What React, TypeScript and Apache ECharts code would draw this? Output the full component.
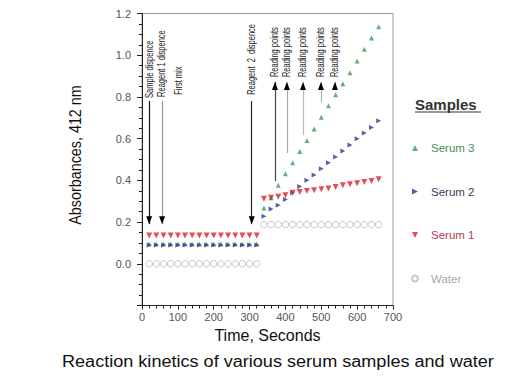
import { useEffect, useRef } from "react";
import * as echarts from "echarts";

// ---- data ----
const timesPhase1 = [20, 40, 60, 80, 100, 120, 140, 160, 180, 200, 220, 240, 260, 280, 300, 320];
const timesPhase2 = [340, 360, 380, 400, 420, 440, 460, 480, 500, 520, 540, 560, 580, 600, 620, 640, 660];

const serum3Phase1 = [0.095, 0.095, 0.095, 0.095, 0.095, 0.095, 0.095, 0.095, 0.095, 0.095, 0.095, 0.095, 0.095, 0.095, 0.095, 0.095];
const serum2Phase1 = [0.09, 0.09, 0.09, 0.09, 0.09, 0.09, 0.09, 0.09, 0.09, 0.09, 0.09, 0.09, 0.09, 0.09, 0.09, 0.09];
const serum1Phase1 = [0.136, 0.136, 0.136, 0.136, 0.136, 0.136, 0.136, 0.136, 0.136, 0.136, 0.136, 0.136, 0.136, 0.136, 0.136, 0.136];
const waterPhase1 = [0, 0, 0, 0, 0, 0, 0, 0, 0, 0, 0, 0, 0, 0, 0, 0];

const serum3Phase2 = [0.268, 0.317, 0.376, 0.432, 0.485, 0.538, 0.591, 0.646, 0.702, 0.758, 0.81, 0.863, 0.916, 0.972, 1.028, 1.083, 1.136];
const serum2Phase2 = [0.228, 0.263, 0.281, 0.308, 0.34, 0.37, 0.4, 0.426, 0.456, 0.485, 0.512, 0.541, 0.57, 0.599, 0.627, 0.654, 0.686];
const serum1Phase2 = [0.312, 0.317, 0.321, 0.328, 0.341, 0.344, 0.349, 0.352, 0.357, 0.361, 0.368, 0.376, 0.381, 0.386, 0.392, 0.397, 0.405];
const waterPhase2 = [0.188, 0.188, 0.188, 0.188, 0.188, 0.188, 0.188, 0.188, 0.188, 0.188, 0.188, 0.188, 0.188, 0.188, 0.188, 0.188, 0.188];

const seriesNames = ["Serum 3", "Serum 2", "Serum 1", "Water"];
const legendTitle = "Samples";
const chartTitle = "Reaction kinetics of various serum samples and water";
const yAxisName = "Absorbances, 412 nm";
const xAxisName = "Time, Seconds";

// annotation texts (time, bottom value of text)
const annotationLabels = ["Sample dispence", "Reagent 1 dispence", "First mix", "Reagent  2  dispence", "Reading points", "Reading points", "Reading points", "Reading points", "Reading points"];
const annotationTimes = [20, 56, 103, 306, 371, 404, 449, 499, 538];
const annotationBottoms = [0.795, 0.8, 0.81, 0.81, 0.895, 0.895, 0.895, 0.895, 0.895];

// arrows: time, from value, to value (arrowhead at "to")
const arrowTimes = [20, 56, 306, 371, 404, 449, 499, 538];
const arrowFrom = [0.78, 0.78, 0.78, 0.397, 0.531, 0.617, 0.775, 0.848];
const arrowTo = [0.19, 0.19, 0.19, 0.872, 0.872, 0.872, 0.872, 0.872];
const arrowColors = ["#111", "#999", "#222", "#444", "#aaa", "#bbb", "#aaa", "#888"];

const xTicks = { min: 0, max: 700, interval: 100 };
const yTicks = { min: -0.2, max: 1.2, interval: 0.2 };

const zip = (ts: number[], vs: number[]) => ts.map((t, i) => [t, vs[i]]);

export default function App() {
  const ref = useRef<HTMLDivElement>(null);
  useEffect(() => {
    if (!ref.current) return;
    const chart = echarts.init(ref.current, undefined, { renderer: "svg" });
    const all = [...timesPhase1, ...timesPhase2];
    const s3 = zip(all, [...serum3Phase1, ...serum3Phase2]);
    const s2 = zip(all, [...serum2Phase1, ...serum2Phase2]);
    const s1 = zip(all, [...serum1Phase1, ...serum1Phase2]);
    const w = zip(all, [...waterPhase1, ...waterPhase2]);

    const markLines = arrowTimes.map((t, i) => [
      { coord: [t, arrowFrom[i]], symbol: "none", lineStyle: { color: arrowColors[i], width: 1.2, type: "solid" } },
      { coord: [t, arrowTo[i]], symbol: "none" },
    ]);
    const markPoints = arrowTimes.map((t, i) => {
      const down = arrowTo[i] < arrowFrom[i];
      return {
        coord: [t, arrowTo[i]],
        symbol: "triangle",
        symbolSize: [6, 8],
        symbolRotate: down ? 180 : 0,
        symbolOffset: [0, down ? -4 : 4],
        itemStyle: { color: "#000" },
        label: { show: false },
      };
    });

    const textStyleBase = { fontFamily: "Liberation Sans", color: "#555" };

    chart.setOption({
      animation: false,
      backgroundColor: "#fff",
      legend: {
        orient: "vertical",
        left: 406,
        top: 137,
        itemWidth: 6,
        itemHeight: 6,
        itemGap: 31.5,
        data: [
          { name: seriesNames[0], icon: "path://M5,0L10,10L0,10Z", textStyle: { color: "#3f8f55" } },
          { name: seriesNames[1], icon: "path://M0,0L10,5L0,10Z", textStyle: { color: "#3a3a5c" } },
          { name: seriesNames[2], icon: "path://M0,0L10,0L5,10Z", textStyle: { color: "#b83a55" } },
          { name: seriesNames[3], textStyle: { color: "#aaa" } },
        ],
        textStyle: { fontFamily: "Liberation Sans", fontSize: 11.5, padding: [0, 0, 0, 8] },
      },
      grid: { left: 142, right: 117, top: 13.5, bottom: 81.5, show: true, borderColor: "#999", borderWidth: 1 },
      xAxis: {
        type: "value",
        min: xTicks.min,
        max: xTicks.max,
        interval: xTicks.interval,
        name: xAxisName,
        nameLocation: "middle",
        nameGap: 22,
        nameTextStyle: { fontFamily: "Liberation Sans", fontSize: 16, color: "#111" },
        axisLine: { show: true, onZero: false, lineStyle: { color: "#222" } },
        axisTick: { show: true, length: 4, lineStyle: { color: "#222" } },
        minorTick: { show: true, splitNumber: 5, length: 3, lineStyle: { color: "#222" } },
        splitLine: { show: false },
        axisLabel: { ...textStyleBase, fontSize: 11, margin: 6 },
      },
      yAxis: {
        type: "value",
        min: yTicks.min,
        max: yTicks.max,
        interval: yTicks.interval,
        axisLine: { show: true, onZero: false, lineStyle: { color: "#222" } },
        axisTick: { show: true, length: 5, lineStyle: { color: "#222" } },
        minorTick: { show: true, splitNumber: 4, length: 3, lineStyle: { color: "#222" } },
        splitLine: { show: false },
        axisLabel: {
          ...textStyleBase,
          fontSize: 11,
          margin: 11,
          formatter: (v: number) => (v < -0.01 ? "" : v.toFixed(1)),
        },
      },
      series: [
        {
          name: seriesNames[0],
          type: "scatter",
          data: s3,
          symbol: "triangle",
          symbolSize: 5,
          itemStyle: { color: "#3e9a58" },
          z: 3,
        },
        {
          name: seriesNames[1],
          type: "scatter",
          data: s2,
          symbol: "triangle",
          symbolSize: 5,
          symbolRotate: -90,
          itemStyle: { color: "#2a3a8c" },
          z: 4,
        },
        {
          name: seriesNames[2],
          type: "scatter",
          data: s1,
          symbol: "triangle",
          symbolSize: 6,
          symbolRotate: 180,
          itemStyle: { color: "#e0202a" },
          z: 5,
        },
        {
          name: seriesNames[3],
          type: "scatter",
          data: w,
          symbol: "circle",
          symbolSize: 6.5,
          itemStyle: { color: "#fff", borderColor: "#b8b8b8", borderWidth: 1 },
          z: 2,
          markLine: { silent: true, animation: false, label: { show: false }, data: markLines },
          markPoint: { silent: true, animation: false, data: markPoints },
        },
      ],
    });

    const texts = annotationLabels.map((label, i) => {
      const [px, py] = chart.convertToPixel({ gridIndex: 0 }, [annotationTimes[i], annotationBottoms[i]]) as number[];
      return {
        type: "text",
        x: px,
        y: py,
        rotation: Math.PI / 2,
        scaleX: 0.75,
        silent: true,
        style: {
          text: label,
          align: "left",
          verticalAlign: "middle",
          fontFamily: "Liberation Sans",
          fontSize: 10,
          fill: "#222",
        },
      };
    });

    chart.setOption({
      graphic: [
        ...texts,
        {
          type: "text",
          x: 75,
          y: 155,
          rotation: Math.PI / 2,
          scaleX: 0.87,
          silent: true,
          style: { text: yAxisName, align: "center", verticalAlign: "middle", fontFamily: "Liberation Sans", fontSize: 16.5, fill: "#111" },
        },
        {
          type: "text",
          x: 62,
          y: 362,
          scaleX: 1.13,
          silent: true,
          style: { text: chartTitle, align: "left", verticalAlign: "middle", fontFamily: "Liberation Sans", fontSize: 16, fill: "#111" },
        },
        {
          type: "text",
          x: 415,
          y: 104,
          silent: true,
          style: { text: legendTitle, align: "left", verticalAlign: "middle", fontFamily: "Liberation Sans", fontSize: 15, fontWeight: "bold", fill: "#333" },
        },
        {
          type: "line",
          silent: true,
          shape: { x1: 415, y1: 112, x2: 481, y2: 112 },
          style: { stroke: "#333", lineWidth: 1 },
        },
      ],
    });

    return () => chart.dispose();
  }, []);
  return <div ref={ref} style={{ position: "absolute", left: 0, top: 0, width: 510, height: 387 }} />;
}
